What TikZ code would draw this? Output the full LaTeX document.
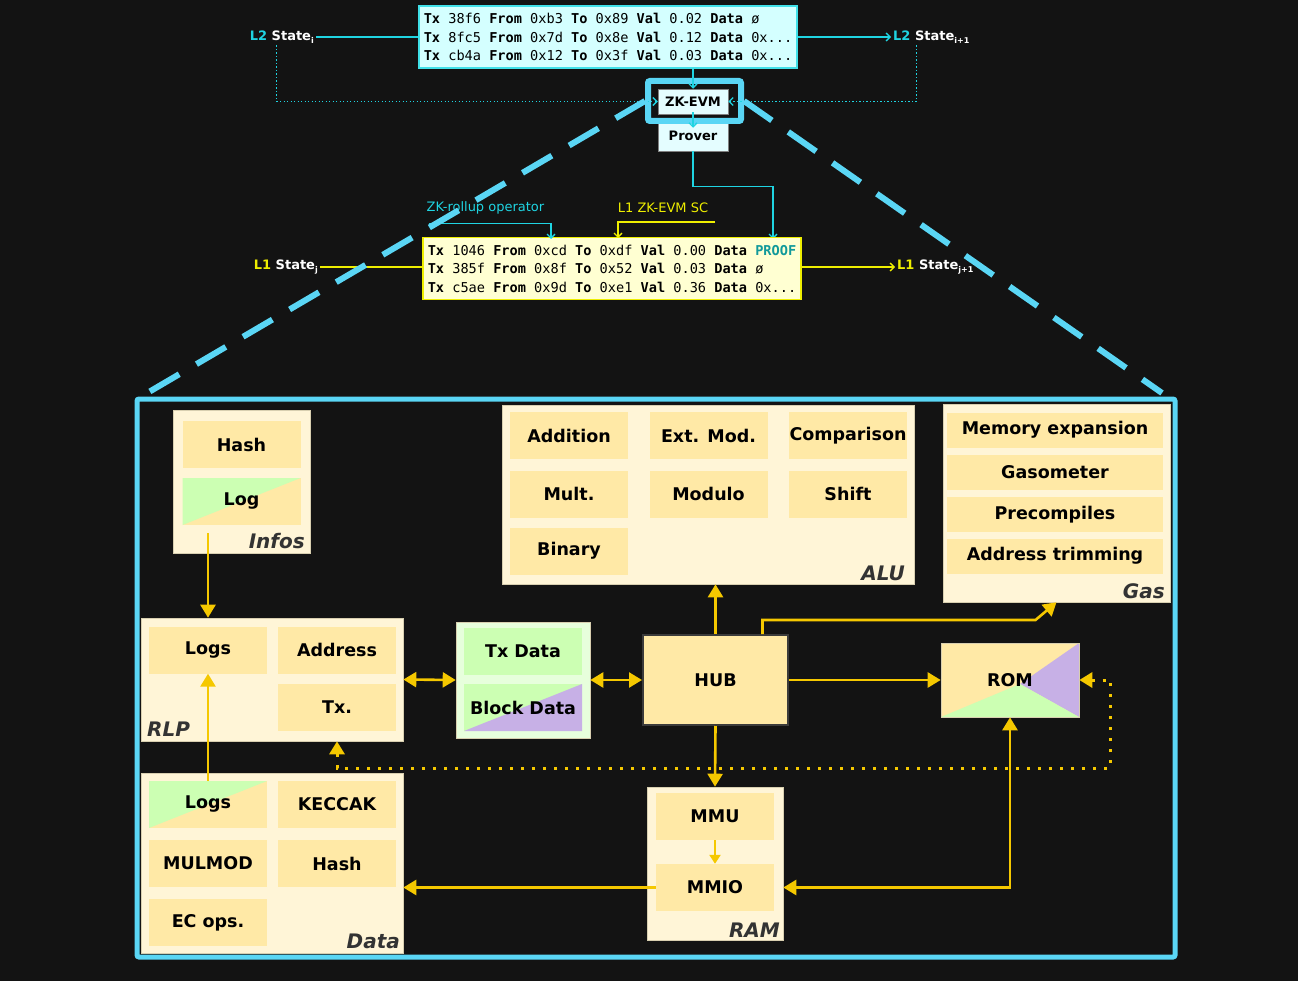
\documentclass[tikz,border=0pt]{standalone}
\usepackage{fontspec}
\setmainfont{DejaVu Sans}
\newfontfamily\monofont{DejaVu Sans Mono}
\usetikzlibrary{arrows.meta}
\definecolor{bgc}{HTML}{131313}
\definecolor{cBig}{HTML}{5AD6F5}
\definecolor{cCyan}{HTML}{1FD4E2}
\definecolor{cTxf}{HTML}{D4FFFF}
\definecolor{cTxb}{HTML}{40E0E8}
\definecolor{cYel}{HTML}{EEEE00}
\definecolor{cTyf}{HTML}{FFFFD2}
\definecolor{cProof}{HTML}{11999A}
\definecolor{cZk}{HTML}{E4FDFF}
\definecolor{cGold}{HTML}{F5C800}
\definecolor{cGrp}{HTML}{FFF5D7}
\definecolor{cGrpb}{HTML}{D8CFB0}
\definecolor{cUnit}{HTML}{FFE9A6}
\definecolor{cGreen}{HTML}{CCFFB3}
\definecolor{cPurp}{HTML}{C7B0E6}
\definecolor{cTxblk}{HTML}{E7FFDC}
\definecolor{cHubb}{HTML}{3B3B3B}
\definecolor{cLbl}{HTML}{333333}
\newcommand\txline[5]{\textbf{Tx} #1 \textbf{From} #2 \textbf{To} #3 \textbf{Val} #4 \textbf{Data} #5}
\newcommand\lowidx[1]{\raisebox{-0.35ex}{\fontsize{8}{8}\selectfont #1}}

\begin{document}
\begin{tikzpicture}[x=1pt,y=-1pt,
  txtop/.style={draw=cTxb,line width=1.6pt,fill=cTxf,minimum width=378pt,minimum height=62pt,inner xsep=5pt,align=left,font=\monofont\fontsize{13.6}{18.5}\selectfont},
  txbot/.style={txtop,draw=cYel,fill=cTyf},
  statelbl/.style={text=white,font=\bfseries\fontsize{13}{15}\selectfont,inner sep=2pt},
  opl/.style={font=\fontsize{13}{14}\selectfont,inner sep=2pt},
  zkbox/.style={fill=cZk,draw=gray,line width=0.5pt,minimum width=70pt,minimum height=25pt,inner sep=0pt,font=\bfseries\fontsize{13}{15}\selectfont},
  hilite/.style={draw=cBig,line width=6pt,rounded corners=2pt,minimum width=93pt,minimum height=40pt},
  cyanline/.style={draw=cCyan,line width=1.3pt,-{Straight Barb[length=4pt,width=8pt]}},
  cyandots/.style={cyanline,dash pattern=on 1.3pt off 2.2pt},
  yelline/.style={draw=cYel,line width=1.3pt,-{Straight Barb[length=4pt,width=8pt]}},
  bigdash/.style={draw=cBig,line width=6pt,dash pattern=on 34pt off 20pt},
  frame/.style={draw=cBig,line width=5pt,rounded corners=2pt},
  grp/.style={fill=cGrp,draw=cGrpb,line width=0.6pt,inner sep=0pt},
  unit/.style={fill=cUnit,minimum width=118pt,minimum height=47pt,inner sep=0pt,font=\bfseries\fontsize{17.5}{20}\selectfont},
  gasunit/.style={unit,minimum width=216pt,minimum height=35pt},
  grplbl/.style={text=cLbl,inner sep=0pt,font=\bfseries\itshape\fontsize{20}{20}\selectfont},
  greenup/.style={path picture={\fill[cGreen] (path picture bounding box.south west) -- (path picture bounding box.north west) -- (path picture bounding box.north east) -- cycle;}},
  purpdown/.style={fill=cGreen,path picture={\fill[cPurp] (path picture bounding box.south west) -- (path picture bounding box.south east) -- (path picture bounding box.north east) -- cycle;}},
  romsplit/.style={path picture={
    \fill[cPurp] (path picture bounding box.north east) -- (path picture bounding box.south east) -- ([shift={(10,4)}]path picture bounding box.center) -- cycle;
    \fill[cGreen] (path picture bounding box.south west) -- (path picture bounding box.south east) -- ([shift={(10,4)}]path picture bounding box.center) -- cycle;}},
  goldarrow/.style={draw=cGold,line width=2.6pt,-{Triangle[length=13pt,width=15pt]}},
  goldboth/.style={goldarrow,{Triangle[length=13pt,width=15pt]}-{Triangle[length=13pt,width=15pt]}},
  golddots/.style={goldboth,line width=3pt,dash pattern=on 3pt off 8pt}]
\fill[bgc] (0,0) rectangle (1298,981);
\useasboundingbox (0,0) rectangle (1298,981);

\node[txtop] (txl2) at (608,37) {\txline{38f6}{0xb3}{0x89}{0.02}{ø}\\\txline{8fc5}{0x7d}{0x8e}{0.12}{0x...}\\\txline{cb4a}{0x12}{0x3f}{0.03}{0x...}};
\node[statelbl,anchor=east] (l2i) at (316,37) {\textcolor{cCyan}{L2} State\lowidx{i}};
\node[statelbl,anchor=west] (l2n) at (891,37) {\textcolor{cCyan}{L2} State\lowidx{i+1}};
\draw[cyanline,-] (l2i.east) -- (l2i.east -| txl2.west);
\draw[cyanline] (txl2.east |- l2n.west) -- (l2n.west);

\node[zkbox] (zkevm) at (693,101.5) {ZK-EVM};
\node[zkbox,minimum height=30pt] (prover) at (693,136) {Prover};
\node[hilite] (zkhl) at (694.5,101) {};
\draw[cyandots] ([xshift=-5pt]l2i.south) |- (zkevm.west);
\draw[cyandots] ([xshift=-15pt]l2n.south) |- (zkevm.east);
\draw[cyanline] (zkevm.north |- txl2.south) -- (zkevm.north);
\draw[cyanline,shorten >=-7pt,shorten <=-2pt] (zkevm.south) -- (prover.north);
\coordinate (proof) at (773,239);
\draw[cyanline] (prover.south) -- ++(0,35) -| (proof);

\node[txbot] (txl1) at (612,268.5) {\txline{1046}{0xcd}{0xdf}{0.00}{\textbf{\textcolor{cProof}{PROOF}}}\\\txline{385f}{0x8f}{0x52}{0.03}{ø}\\\txline{c5ae}{0x9d}{0xe1}{0.36}{0x...}};
\node[statelbl,anchor=east] (l1j) at (320,267) {\textcolor{cYel}{L1} State\lowidx{j}};
\node[statelbl,anchor=west] (l1n) at (895,267) {\textcolor{cYel}{L1} State\lowidx{j+1}};
\draw[yelline,-] (l1j.east) -- (l1j.east -| txl1.west);
\draw[yelline] (txl1.east |- l1n.west) -- (l1n.west);
\node[opl,text=cCyan] (zkop) at (485.5,208) {ZK-rollup operator};
\node[opl,text=cYel] (sclbl) at (663,208) {L1 ZK-EVM SC};
\coordinate (opin) at (551,239);
\coordinate (scin) at (618,238);
\draw[cyanline] ([shift={(4,7)}]zkop.south west) -| (opin);
\draw[yelline] ([shift={(5,7)}]sclbl.south east) -| (scin);

\coordinate (fnw) at (137,399);
\coordinate (fne) at (1175,399);
\draw[bigdash] (zkhl.west) -- (fnw);
\draw[bigdash] (zkhl.east) -- ([shift={(-13,-6)}]fne);
\draw[frame] (fnw) rectangle (1175,957);

\node[grp,minimum width=137pt,minimum height=143pt] (infos) at (241.5,481.5) {};
\node[unit] (hash) at (241.5,444.5) {Hash};
\node[unit,greenup] (log) at (241.5,501.5) {Log};
\node[grplbl,anchor=base east] (infoslbl) at (305,548) {Infos};

\node[grp,minimum width=262pt,minimum height=123pt] (rlp) at (272,679.5) {};
\node[unit] (rlplogs) at (208,650) {Logs};
\node[unit] (address) at (337,650) {Address};
\node[unit] (tx) at (337,707.5) {Tx.};
\node[grplbl,anchor=base west] (rlplbl) at (147,736) {RLP};

\node[grp,fill=cTxblk,minimum width=134pt,minimum height=116pt] (txblk) at (523,680) {};
\node[unit,fill=cGreen] (txdata) at (523,651.5) {Tx Data};
\node[unit,purpdown] (blkdata) at (523,707.5) {Block Data};

\node[unit,draw=cHubb,line width=2pt,minimum width=145pt,minimum height=90pt] (hub) at (715.5,680) {HUB};

\node[grp,minimum width=412pt,minimum height=179pt] (alu) at (708,494.5) {};
\node[unit] (add) at (569,435.5) {Addition};
\node[unit] (extmod) at (708.5,435.5) {Ext. Mod.};
\node[unit] (cmp) at (848,435.5) {Comparison};
\node[unit] (mult) at (569,494) {Mult.};
\node[unit] (modulo) at (708.5,494) {Modulo};
\node[unit] (shift) at (848,494) {Shift};
\node[unit] (binary) at (569,551) {Binary};
\node[grplbl,anchor=base east] (alulbl) at (905,580) {ALU};

\node[grp,minimum width=227pt,minimum height=198pt] (gas) at (1056.5,503) {};
\node[gasunit] (memexp) at (1055,430) {Memory expansion};
\node[gasunit] (gasometer) at (1055,472.5) {Gasometer};
\node[gasunit] (precomp) at (1055,514.5) {Precompiles};
\node[gasunit] (addrtrim) at (1055,556) {Address trimming};
\node[grplbl,anchor=base east] (gaslbl) at (1165,598) {Gas};

\node[unit,romsplit,draw=cGrpb,line width=0.6pt,minimum width=138pt,minimum height=74pt] (rom) at (1010,680) {ROM};

\node[grp,minimum width=262pt,minimum height=180pt] (data) at (272,863) {};
\node[unit,greenup] (datalogs) at (208,804.5) {Logs};
\node[unit] (keccak) at (337,804.5) {KECCAK};
\node[unit] (mulmod) at (208,863.5) {MULMOD};
\node[unit] (datahash) at (337,863.5) {Hash};
\node[unit] (ecops) at (208,922.5) {EC ops.};
\node[grplbl,anchor=base east] (datalbl) at (400,948) {Data};

\node[grp,minimum width=136pt,minimum height=153pt] (ram) at (715,863.5) {};
\node[unit] (mmu) at (715,816.5) {MMU};
\node[unit] (mmio) at (715,887.5) {MMIO};
\node[grplbl,anchor=base east] (ramlbl) at (780,937) {RAM};

\draw[goldarrow] ([yshift=20pt]rlplogs.north |- infos.south) -- (rlplogs.north |- rlp.north);
\draw[goldarrow] (datalogs.north) -- (rlplogs.south);
\draw[goldboth] (rlp.east) -- (txblk.west);
\draw[goldboth] (txblk.east) -- (hub.west);
\draw[goldarrow] (hub.north) -- (hub.north |- alu.south);
\draw[goldarrow] ([xshift=47pt]hub.north) -- ++(0,-14) -- ++(273,0) -- (gas.south);
\draw[goldarrow] (hub.east) -- (rom.west);
\draw[goldarrow] (hub.south) -- (ram.north);
\draw[goldarrow,-{Triangle[length=9pt,width=11pt]}] (mmu.south) -- (mmio.north);
\draw[goldarrow] (mmio.west) -- (mmio.west -| data.east);
\draw[goldboth] (mmio -| ram.east) -| (rom.south);
\draw[golddots] (rom.east) -- ++(31,0) -- ++(0,88) -| (tx.south |- rlp.south);
\end{tikzpicture}
\end{document}
